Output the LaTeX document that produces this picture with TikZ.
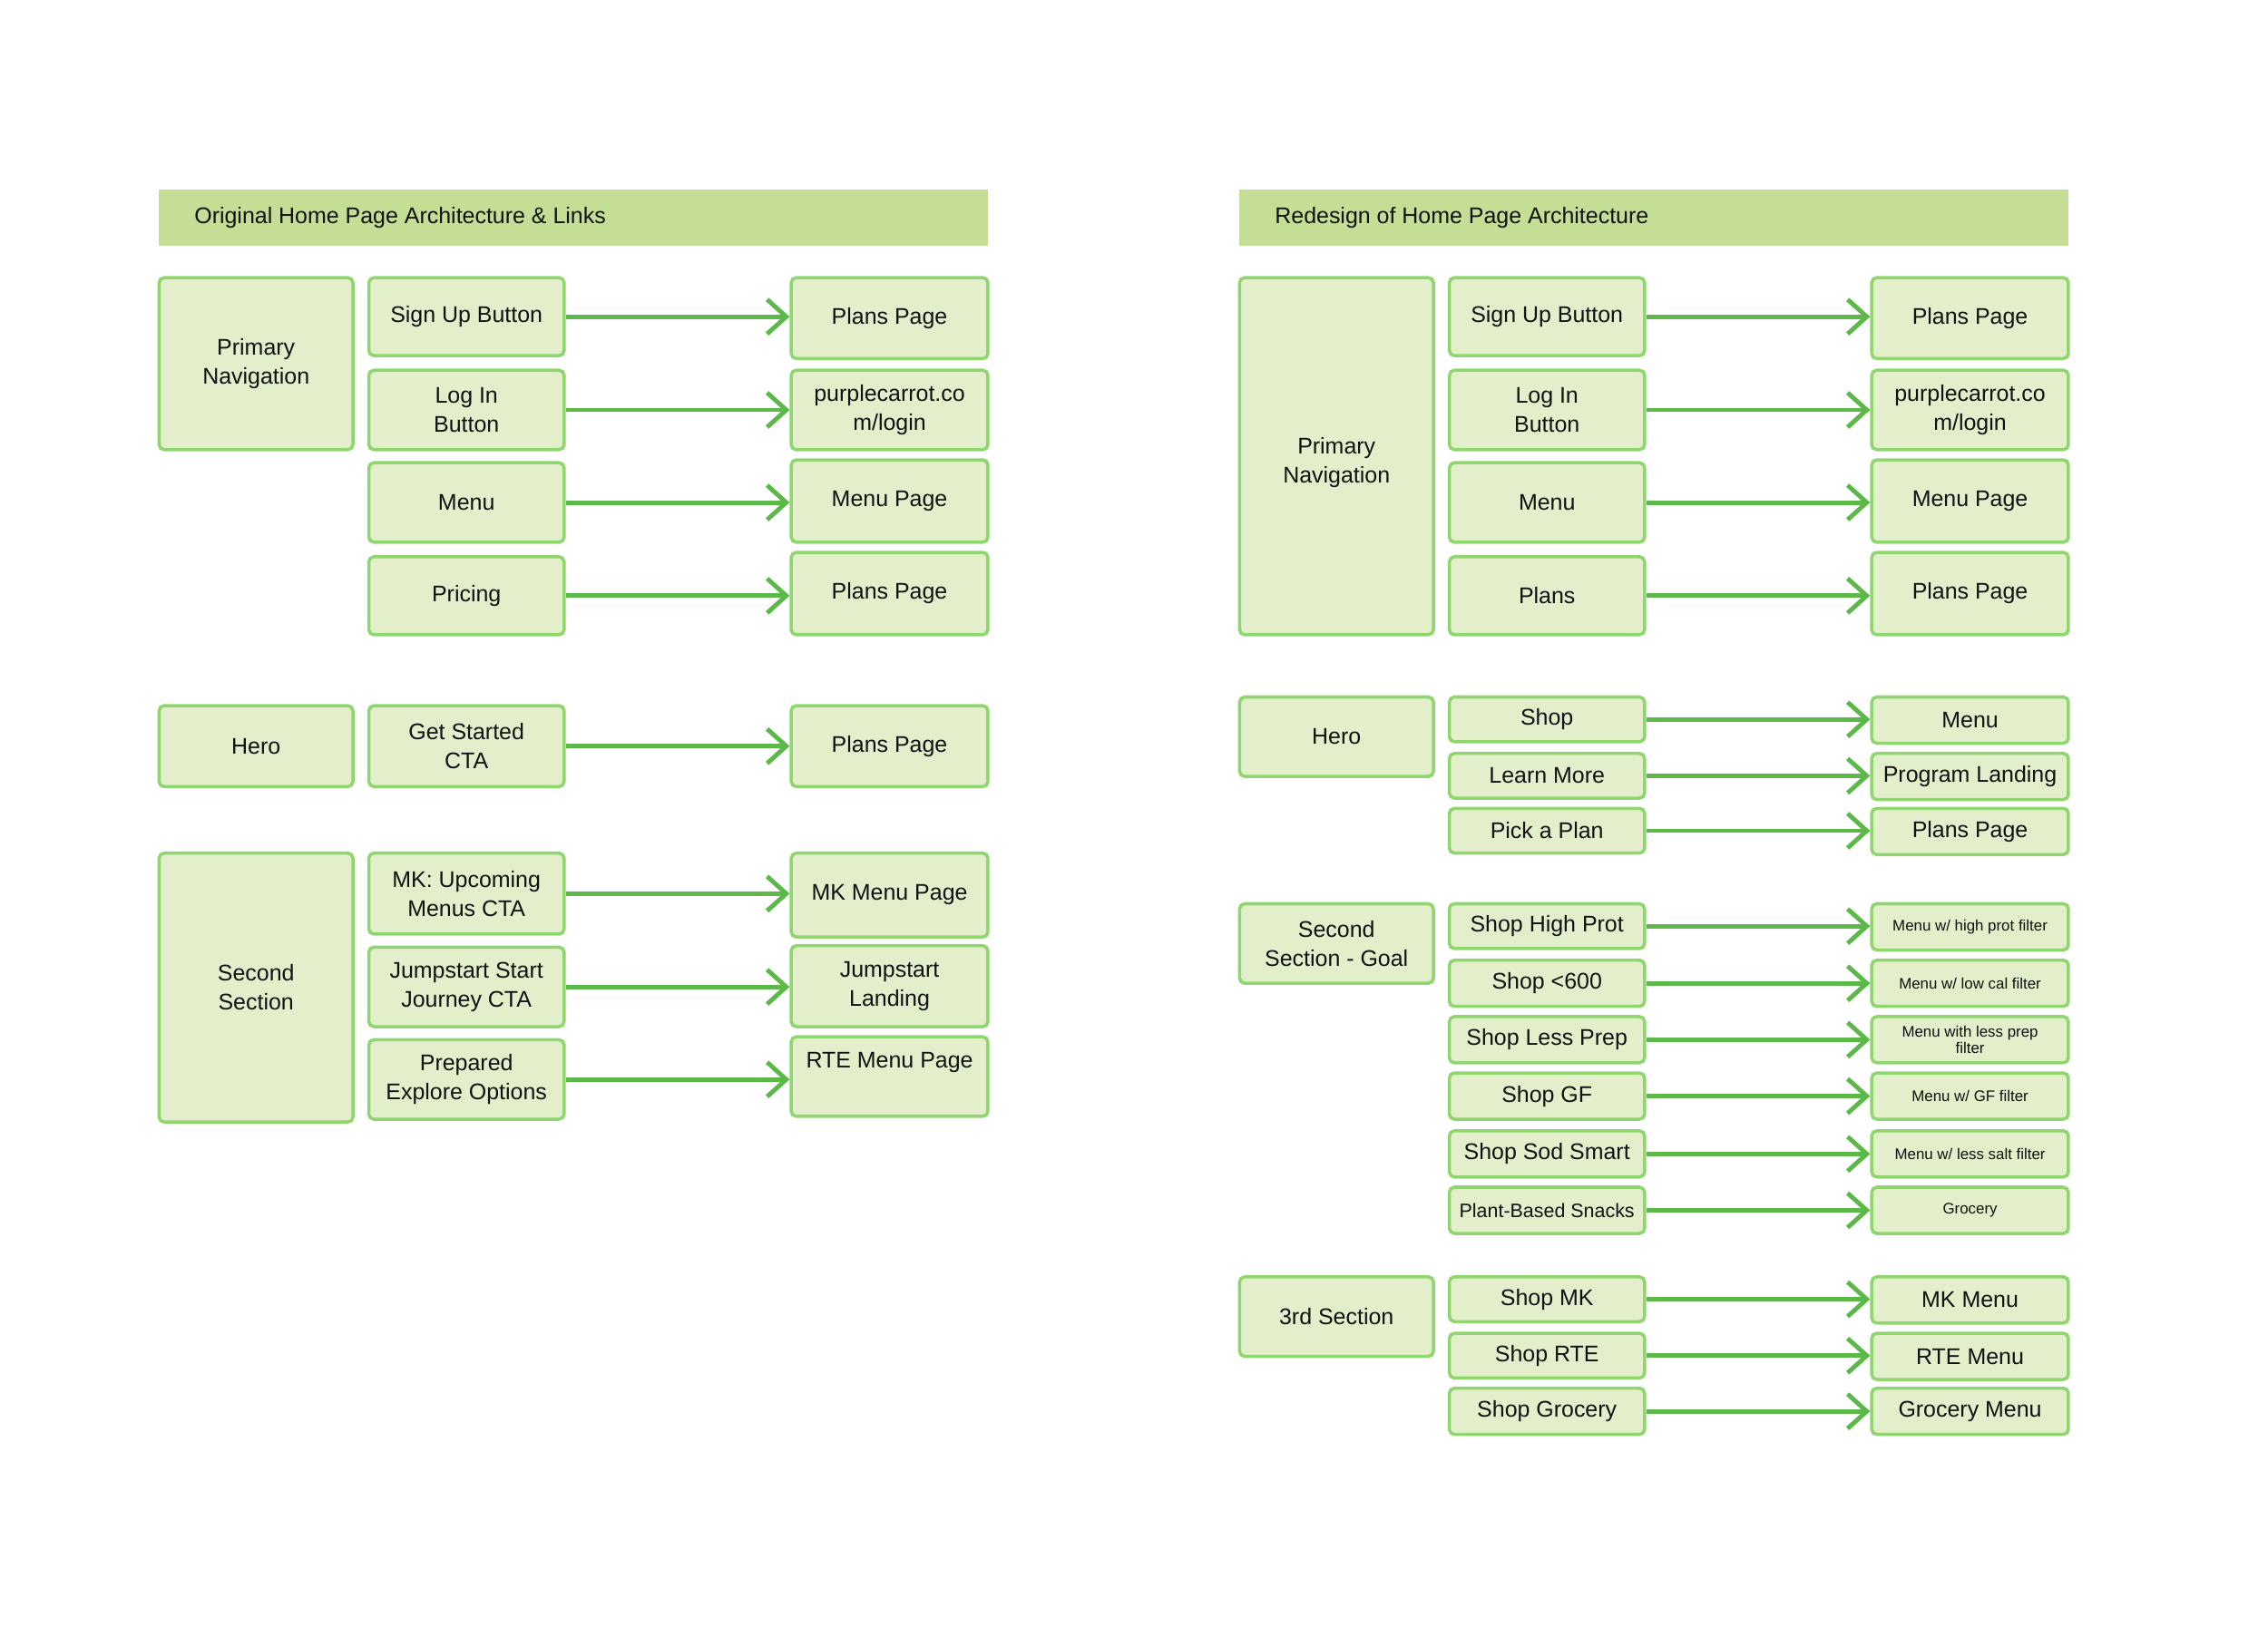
\documentclass[tikz,border=0pt]{standalone}
\usepackage{fontspec}
\setmainfont{Liberation Sans}
\usetikzlibrary{arrows.meta}
\definecolor{hdrfill}{HTML}{C4DF95}
\definecolor{boxfill}{HTML}{E2EFCA}
\definecolor{boxline}{HTML}{8FD66E}
\definecolor{arrowc}{HTML}{5CB848}
\definecolor{txt}{HTML}{111111}
\newcommand\bx[7][]{\node[box,#1,minimum width={(#5-#3)*0.15944mm},minimum height={(#6-#4)*0.15944mm}] (#2) at ({(#3+#5)/2},{(#4+#6)/2}) {#7};}
\begin{document}
\begin{tikzpicture}[x=0.15944mm,y=-0.15944mm,
  box/.style={draw=boxline,fill=boxfill,line width=1pt,rounded corners=1.6pt,inner sep=0pt,align=center,text=txt,font=\fontsize{7.1}{9.1}\selectfont},
  small/.style={font=\fontsize{4.8}{5}\selectfont},
  mid/.style={font=\fontsize{6.1}{8}\selectfont},
  hdr/.style={fill=hdrfill,inner sep=0pt},
  hdrtxt/.style={anchor=west,inner sep=0pt,text=txt,font=\fontsize{7.1}{9}\selectfont},
  lbl/.style={inner sep=0pt,align=center,text=txt,font=\fontsize{7.1}{9.1}\selectfont},
  arr/.style={draw=arrowc,line width=1.4pt,-{Straight Barb[length=6pt,width=10.8pt]}}]
\useasboundingbox (0,0) rectangle (1568,1131.5);
% ---------- left panel ----------
\node[hdr,minimum width={573*0.15944mm},minimum height={39*0.15944mm}] (lhdr) at (396.5,150.5) {};
\node[hdrtxt] (lhdrt) at (134,150.5) {Original Home Page Architecture \& Links};
\bx{lpn}{110}{192}{244}{311}{Primary\\Navigation}
\bx{lsu}{255}{192}{390}{246}{Sign Up Button}
\bx{lli}{255}{256}{390}{311}{Log In\\Button}
\bx{lme}{255}{320}{390}{375}{Menu}
\bx{lpr}{255}{385}{390}{439}{Pricing}
\bx{lt1}{547}{192}{683}{248}{Plans Page}
\bx{lt2}{547}{256}{683}{311}{purplecarrot.co\\m/login}
\bx{lt3}{547}{318}{683}{375}{Menu Page}
\bx{lt4}{547}{382}{683}{439}{Plans Page}
\bx{lhe}{110}{488}{244}{544}{Hero}
\bx{lgs}{255}{488}{390}{544}{Get Started\\CTA}
\bx{lt5}{547}{488}{683}{544}{Plans Page}
\bx{lss}{110}{590}{244}{776}{Second\\Section}
\bx{lmk}{255}{590}{390}{646}{MK: Upcoming\\Menus CTA}
\bx{ljs}{255}{655}{390}{710}{Jumpstart Start\\Journey CTA}
\bx{lpe}{255}{719}{390}{774}{Prepared\\Explore Options}
\bx{lt6}{547}{590}{683}{648}{MK Menu Page}
\bx{lt7}{547}{654}{683}{710}{Jumpstart\\Landing}
\bx{lt8}{547}{717}{683}{772}{}
\node[lbl] (lt8t) at (615,735) {RTE Menu Page};
\foreach \a/\b in {lsu/lt1,lli/lt2,lme/lt3,lpr/lt4,lgs/lt5,lmk/lt6,ljs/lt7,lpe/lt8}
  \draw[arr] (\a.east) -- (\a.east -| \b.west);
% ---------- right panel ----------
\node[hdr,minimum width={573*0.15944mm},minimum height={39*0.15944mm}] (rhdr) at (1143.5,150.5) {};
\node[hdrtxt] (rhdrt) at (881,150.5) {Redesign of Home Page Architecture};
\bx{rpn}{857}{192}{991}{439}{}
\node[lbl] (rpnt) at (924,320) {Primary\\Navigation};
\bx{rsu}{1002}{192}{1137}{246}{Sign Up Button}
\bx{rli}{1002}{256}{1137}{311}{Log In\\Button}
\bx{rme}{1002}{320}{1137}{375}{Menu}
\bx{rpl}{1002}{385}{1137}{439}{Plans}
\bx{rt1}{1294}{192}{1430}{248}{Plans Page}
\bx{rt2}{1294}{256}{1430}{311}{purplecarrot.co\\m/login}
\bx{rt3}{1294}{318}{1430}{375}{Menu Page}
\bx{rt4}{1294}{382}{1430}{439}{Plans Page}
\bx{rhe}{857}{482}{991}{537}{Hero}
\bx{rsh}{1002}{482}{1137}{513}{Shop}
\bx{rlm}{1002}{521}{1137}{552}{Learn More}
\bx{rpp}{1002}{559}{1137}{590}{Pick a Plan}
\bx{rt5}{1294}{482}{1430}{514}{Menu}
\bx{rt6}{1294}{521}{1430}{553}{Program Landing}
\bx{rt7}{1294}{559}{1430}{591}{Plans Page}
\bx{rsg}{857}{625}{991}{680}{Second\\Section - Goal}
\bx{rg1}{1002}{625}{1137}{656}{Shop High Prot}
\bx{rg2}{1002}{664}{1137}{696}{Shop <600}
\bx{rg3}{1002}{703}{1137}{735}{Shop Less Prep}
\bx{rg4}{1002}{742}{1137}{774}{Shop GF}
\bx{rg5}{1002}{782}{1137}{814}{Shop Sod Smart}
\bx[mid]{rg6}{1002}{821}{1137}{853}{Plant-Based Snacks}
\bx[small]{rt8}{1294}{625}{1430}{657}{Menu w/ high prot filter}
\bx[small]{rt9}{1294}{664}{1430}{696}{Menu w/ low cal filter}
\bx[small]{rt10}{1294}{703}{1430}{735}{Menu with less prep\\filter}
\bx[small]{rt11}{1294}{742}{1430}{774}{Menu w/ GF filter}
\bx[small]{rt12}{1294}{782}{1430}{814}{Menu w/ less salt filter}
\bx[small]{rt13}{1294}{821}{1430}{853}{Grocery}
\bx{r3s}{857}{883}{991}{938}{3rd Section}
\bx{rm1}{1002}{883}{1137}{914}{Shop MK}
\bx{rm2}{1002}{922}{1137}{953}{Shop RTE}
\bx{rm3}{1002}{960}{1137}{992}{Shop Grocery}
\bx{rt14}{1294}{883}{1430}{915}{MK Menu}
\bx{rt15}{1294}{922}{1430}{954}{RTE Menu}
\bx{rt16}{1294}{960}{1430}{992}{Grocery Menu}
\foreach \a/\b in {rsu/rt1,rli/rt2,rme/rt3,rpl/rt4,rsh/rt5,rlm/rt6,rpp/rt7,rg1/rt8,rg2/rt9,rg3/rt10,rg4/rt11,rg5/rt12,rg6/rt13,rm1/rt14,rm2/rt15,rm3/rt16}
  \draw[arr] (\a.east) -- (\a.east -| \b.west);
\end{tikzpicture}
\end{document}
